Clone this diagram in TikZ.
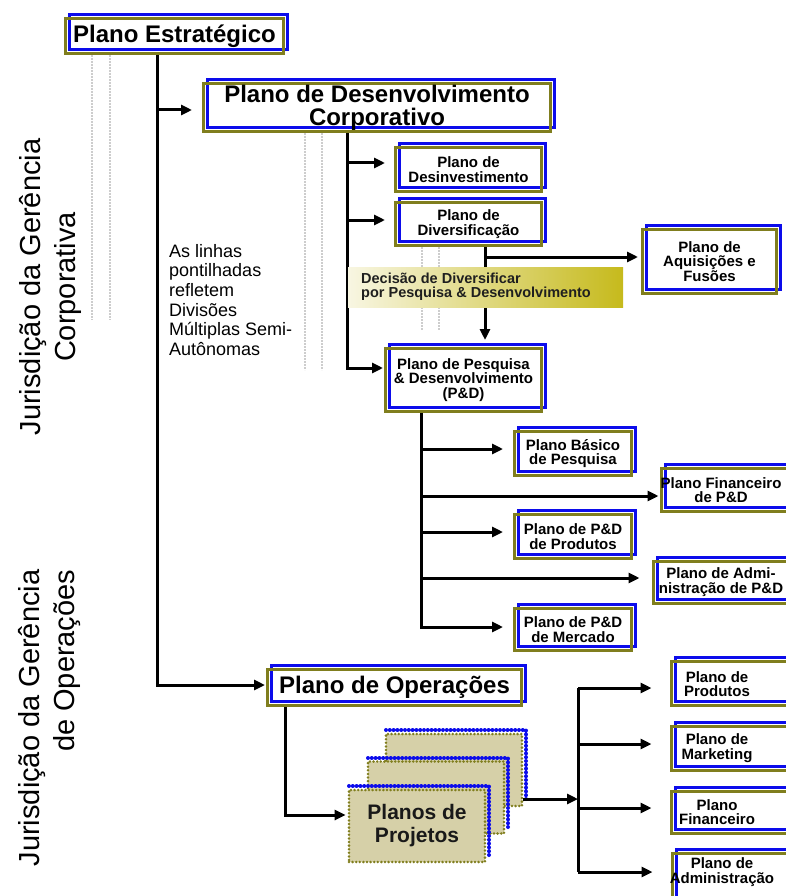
\documentclass[tikz,border=0pt]{standalone}
\usepackage{fontspec}
\setmainfont{Liberation Sans}
\usetikzlibrary{arrows.meta,shadows,calc}
\definecolor{boxblue}{RGB}{12,12,235}
\definecolor{boxolive}{RGB}{128,126,30}
\definecolor{projfill}{RGB}{214,208,168}
\definecolor{bannerL}{RGB}{248,246,226}
\definecolor{bannerR}{RGB}{198,186,28}
\definecolor{guidegray}{RGB}{205,205,205}

\begin{document}
\begin{tikzpicture}[x=1pt,y=-1pt,
  pbox/.style={draw=boxolive, line width=3pt, inner sep=0pt, align=center,
    copy shadow={shadow xshift=4pt, shadow yshift=4pt, draw=boxblue, fill=white, line width=3pt}},
  bigtxt/.style={font=\fontsize{24}{23}\selectfont\bfseries},
  smalltxt/.style={font=\fontsize{15}{14.5}\selectfont\bfseries, align=center, inner sep=0pt},
  conn/.style={draw=black, line width=3pt, line join=miter},
  arr/.style={conn, -{Triangle[length=11pt,width=10pt]}},
  guide/.style={draw=guidegray, line width=1.2pt, dash pattern=on 2pt off 1pt},
  projbox/.style={fill=projfill, draw=boxolive, line width=2.8pt, dash pattern=on 0pt off 3.6pt,
    line cap=round, minimum width=136, minimum height=72, inner sep=0pt},
  projedge/.style={draw=boxblue, line width=4pt, dash pattern=on 0pt off 3.8pt, line cap=round},
  jur/.style={rotate=90, font=\fontsize{29}{35}\selectfont, inner sep=0pt}
]
\useasboundingbox (0,0) rectangle (785,896);

% side labels
\node[jur, align=center] (jcorp) at (50,287) {Jurisdição da Gerência\\Corporativa};
\node[jur, align=right] (joper) at (50,718) {Jurisdição da Gerência\\de Operações};

% dotted division lines
\draw[guide] (92,55) -- (92,320);
\draw[guide] (110,55) -- (110,320);
\draw[guide] (305,133) -- (305,370);
\draw[guide] (322,133) -- (322,370);
\draw[guide] (422,247) -- (422,330);
\draw[guide] (439,247) -- (439,330);

% plan boxes
\node[pbox, bigtxt, minimum width=218, minimum height=35] (est) at (174.5,36) {Plano Estratégico};
\node[pbox, bigtxt, minimum width=347, minimum height=48] (dev) at (377,107.5) {Plano de Desenvolvimento\\Corporativo};
\node[pbox, smalltxt, minimum width=146, minimum height=44] (desinv) at (468.5,169.5) {Plano de\\Desinvestimento};
\node[pbox, smalltxt, minimum width=146, minimum height=43] (divers) at (468.5,224) {Plano de\\Diversificação};
\node[pbox, smalltxt, minimum width=134, minimum height=64] (aquis) at (709.5,261.5) {Plano de\\Aquisições e\\Fusões};
\node[pbox, smalltxt, minimum width=156, minimum height=63] (pd) at (463.5,380) {Plano de Pesquisa\\\& Desenvolvimento\\(P\&D)};
\node[pbox, smalltxt, minimum width=117, minimum height=44] (basico) at (573,453.5) {Plano Básico\\de Pesquisa};
\node[pbox, anchor=west, minimum width=140, minimum height=43] (fin) at (659.5,490) {};
\node[smalltxt] (fintxt) at (721,490) {Plano Financeiro\\de P\&D};
\node[pbox, smalltxt, minimum width=117, minimum height=44] (prod) at (573,536.5) {Plano de P\&D\\de Produtos};
\node[pbox, anchor=west, minimum width=140, minimum height=42] (admin) at (651.5,582.5) {};
\node[smalltxt] (admintxt) at (721,582) {Plano de Admi-\\nistração de P\&D};
\node[pbox, smalltxt, minimum width=117, minimum height=42] (merc) at (573,629.5) {Plano de P\&D\\de Mercado};
\node[pbox, bigtxt, minimum width=254, minimum height=36] (oper) at (394.5,687.5) {Plano de Operações};

\node[pbox, anchor=west, minimum width=130, minimum height=44] (rprod) at (669.5,683.5) {};
\node[smalltxt] (rprodtxt) at (717,684) {Plano de\\Produtos};
\node[pbox, anchor=west, minimum width=130, minimum height=44] (rmkt) at (669.5,748.5) {};
\node[smalltxt] (rmkttxt) at (717,748) {Plano de\\Marketing};
\node[pbox, anchor=west, minimum width=130, minimum height=42] (rfin) at (669.5,812.5) {};
\node[smalltxt] (rfintxt) at (717,812) {Plano\\Financeiro};
\node[pbox, anchor=west, minimum width=130, minimum height=48] (radm) at (670.5,877) {};
\node[smalltxt] (radmtxt) at (722,872) {Plano de\\Administração};

% project plan stack
\draw[projedge] (386,730) -- (526,730) -- (526,802);
\node[projbox] (projC) at (454,770) {};
\draw[projedge] (368,758) -- (508,758) -- (508,829);
\node[projbox] (projB) at (436,797.5) {};
\draw[projedge] (349,786) -- (489,786) -- (489,858);
\node[projbox, font=\fontsize{21}{23}\selectfont\bfseries, align=center, text=black!90] (projA) at (417,826) {Planos de\\Projetos};

% note text
\node[anchor=north west, align=left, inner sep=0pt, font=\fontsize{18}{19.6}\selectfont] (note) at (169,244) {As linhas\\pontilhadas\\refletem\\Divisões\\Múltiplas Semi-\\Autônomas};

% connector junction columns
\coordinate (tk) at (157,0);
\coordinate (dk) at (347,0);
\coordinate (vk) at (485,0);
\coordinate (pk) at (421,0);
\coordinate (ok) at (285,0);
\coordinate (rj) at (578,799);

% arrow entry points
\coordinate (devin) at ([yshift=-2.5pt]dev.west);
\coordinate (operin) at ([yshift=2.5pt]oper.west);
\coordinate (desin) at ([yshift=6.5pt]desinv.west);
\coordinate (divin) at ([yshift=4pt]divers.west);
\coordinate (pdin) at ([yshift=12pt]pd.west);
\coordinate (aqin) at ([yshift=4.5pt]aquis.west);
\coordinate (basin) at ([yshift=4.5pt]basico.west);
\coordinate (finin) at ([yshift=-6pt]fin.west);
\coordinate (prodin) at ([yshift=4.5pt]prod.west);
\coordinate (admin-in) at ([yshift=4.5pt]admin.west);
\coordinate (mercin) at ([yshift=2.5pt]merc.west);
\coordinate (projin) at ([yshift=11pt]projA.west);
\coordinate (projout) at ([yshift=-29pt]projC.east);
\coordinate (rprodin) at ([yshift=-4.5pt]rprod.west);
\coordinate (rmktin) at ([yshift=4.5pt]rmkt.west);
\coordinate (rfinin) at ([yshift=4.5pt]rfin.west);
\coordinate (radmin) at ([yshift=5pt]radm.west);

% corporate trunk
\draw[arr, shorten >=1pt] (tk |- est.south) |- (operin);
\draw[arr, shorten >=10pt] (tk |- devin) -- (devin);

% development plan branches
\draw[arr, shorten >=1pt] (dk |- dev.south) |- (pdin);
\draw[arr, shorten >=9pt] (dk |- desin) -- (desin);
\draw[arr, shorten >=9pt] (dk |- divin) -- (divin);

% diversification branches
\draw[arr, shorten >=7pt] (vk |- divers.south) -- (vk |- pd.north);
\draw[arr, shorten >=3pt] (vk |- aqin) -- (aqin);

% decision banner
\node[anchor=north west, minimum width=275, minimum height=40, inner sep=0pt,
  left color=bannerL, right color=bannerR] (banner) at (348,267) {};
\node[anchor=west, align=left, inner sep=0pt, text=black!88,
  font=\fontsize{14.5}{14}\selectfont\bfseries] (bannertxt) at (361,287)
  {Decisão de Diversificar\\por Pesquisa \& Desenvolvimento};

% R&D branches
\draw[arr, shorten >=10pt] (pk |- pd.south) |- (mercin);
\draw[arr, shorten >=10pt] (pk |- basin) -- (basin);
\draw[arr, shorten >=1pt] (pk |- finin) -- (finin);
\draw[arr, shorten >=10pt] (pk |- prodin) -- (prodin);
\draw[arr, shorten >=12pt] (pk |- admin-in) -- (admin-in);

% operations branches
\draw[arr, shorten >=2pt] (ok |- oper.south) |- (projin);
\draw[arr] (projout) -- (rj);
\draw[conn] (rj |- rprodin) -- (rj |- radmin);
\draw[arr, shorten >=18pt] (rj |- rprodin) -- (rprodin);
\draw[arr, shorten >=18pt] (rj |- rmktin) -- (rmktin);
\draw[arr, shorten >=18pt] (rj |- rfinin) -- (rfinin);
\draw[arr, shorten >=18pt] (rj |- radmin) -- (radmin);
\end{tikzpicture}
\end{document}
